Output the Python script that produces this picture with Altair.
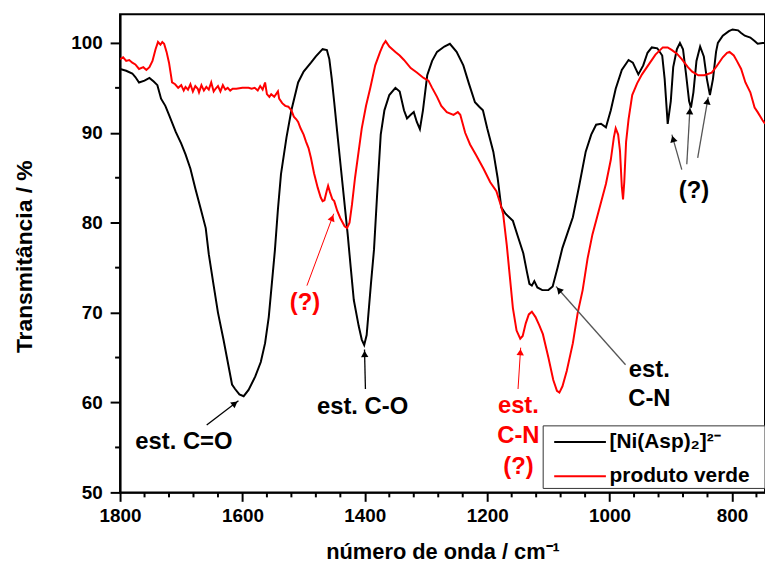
import math
import altair as alt
import pandas as pd

# ---------------- data ----------------
black_wn = [1800, 1790, 1780, 1775, 1769, 1760, 1752, 1745, 1739, 1733, 1726, 1720, 1709, 1700,
            1693, 1685, 1677, 1668, 1660, 1655, 1647, 1640, 1631, 1624, 1617, 1612, 1605, 1598,
            1590, 1579, 1570, 1563, 1557, 1552, 1547, 1542, 1537, 1528, 1520, 1509, 1500, 1488,
            1480, 1469, 1462, 1458, 1454, 1450, 1445, 1439, 1433, 1428, 1423, 1418, 1410, 1405,
            1401, 1397, 1390, 1385, 1380, 1374, 1368, 1360, 1350, 1343, 1336, 1331, 1325, 1320,
            1315, 1310, 1305, 1298, 1290, 1282, 1270, 1261, 1250, 1239, 1230, 1220, 1213, 1207,
            1200, 1190, 1183, 1177, 1170, 1158, 1150, 1141, 1135, 1131, 1127, 1123, 1118, 1110,
            1100, 1093, 1085, 1077, 1068, 1060, 1050, 1039, 1030, 1022, 1014, 1006, 998, 990,
            980, 969, 962, 953, 945, 938, 931, 922, 914, 910, 905, 900, 896, 890, 885, 880, 875,
            870, 867, 863, 858, 852, 846, 841, 836, 831, 826, 823, 815, 805, 799, 790, 785, 779,
            770, 763, 758, 750, 746]
black_t = [97.1, 96.9, 96.6, 96.2, 95.6, 95.8, 96.1, 95.7, 95.3, 93.8, 93.0, 92.0, 90.1, 88.8,
           87.6, 86.0, 83.8, 81.5, 79.4, 76.5, 73.0, 70.0, 67.0, 64.5, 62.0, 61.5, 60.9, 60.7,
           61.4, 62.9, 64.5, 66.6, 69.5, 73.2, 76.9, 81.5, 85.4, 89.5, 92.5, 95.6, 96.8, 97.8,
           98.5, 99.3, 99.2, 98.2, 96.0, 93.4, 90.0, 86.0, 82.0, 78.7, 75.0, 71.4, 68.5, 67.0,
           66.4, 67.5, 73.2, 77.0, 83.0, 89.8, 92.5, 94.2, 95.0, 94.6, 92.5, 91.6, 92.0, 92.3,
           91.2, 90.4, 92.5, 96.4, 98.0, 99.0, 99.6, 99.9, 99.0, 97.5, 95.5, 93.4, 92.9, 92.5,
           90.5, 87.9, 85.0, 81.7, 81.0, 80.2, 78.5, 76.6, 74.5, 73.2, 73.0, 73.5, 72.8, 72.5,
           72.5, 72.9, 75.0, 77.2, 79.0, 80.6, 84.0, 87.9, 89.8, 90.9, 91.0, 90.6, 92.5, 94.9,
           97.0, 98.1, 97.8, 96.5, 97.5, 98.9, 99.5, 99.4, 98.6, 96.0, 91.0, 93.5, 97.3, 99.3,
           100.0, 99.3, 96.5, 93.5, 92.8, 94.5, 98.0, 99.6, 98.5, 96.0, 94.2, 96.0, 99.0, 100.0,
           100.8, 101.3, 101.5, 101.4, 101.1, 100.8, 100.6, 100.2, 99.9, 100.0, 100.0]

red_wn = [1800, 1795, 1790, 1785, 1780, 1775, 1769, 1762, 1757, 1752, 1747, 1742, 1738, 1734,
          1731, 1728, 1724, 1720, 1717, 1715, 1710, 1705, 1700, 1696, 1693, 1689, 1685, 1681,
          1677, 1673, 1671, 1667, 1663, 1659, 1655, 1651, 1647, 1644, 1640, 1636, 1632, 1628,
          1624, 1620, 1616, 1610, 1600, 1590, 1585, 1580, 1575, 1571, 1567, 1563, 1560, 1556,
          1553, 1548, 1542, 1540, 1535, 1530, 1525, 1520, 1516, 1512, 1509, 1505, 1500, 1496,
          1492, 1488, 1483, 1477, 1472, 1469, 1466, 1462, 1460, 1457, 1453, 1450, 1445, 1440,
          1433, 1429, 1425, 1421, 1416, 1410, 1405, 1398, 1391, 1383, 1375, 1370, 1366, 1360,
          1350, 1343, 1336, 1325, 1315, 1304, 1296, 1290, 1282, 1275, 1266, 1255, 1248, 1244,
          1236, 1228, 1218, 1206, 1195, 1185, 1178, 1174, 1168, 1163, 1158, 1152, 1146, 1142,
          1137, 1132, 1127, 1121, 1115, 1109, 1100, 1092, 1086, 1082, 1077, 1070, 1060, 1052,
          1044, 1036, 1028, 1017, 1006, 998, 993, 990, 986, 983, 980, 978, 976, 973, 969, 963,
          955, 947, 937, 925, 913, 905, 898, 890, 882, 872, 865, 855, 845, 833, 825, 815, 808,
          804, 797, 792, 785, 778, 770, 763, 758, 750, 746]
red_t = [98.2, 98.4, 98.0, 98.1, 97.8, 97.6, 97.1, 97.3, 97.0, 97.3, 98.0, 99.3, 100.1, 99.8,
         100.1, 99.9, 99.0, 97.8, 96.5, 95.6, 95.4, 95.0, 95.3, 94.7, 95.1, 94.8, 95.4, 94.6,
         95.2, 94.9, 94.5, 95.3, 94.7, 95.1, 94.8, 95.6, 94.6, 94.9, 95.2, 94.6, 95.3, 94.8,
         95.0, 94.7, 94.9, 94.9, 95.0, 95.0, 94.9, 95.0, 94.7, 95.2, 94.8, 95.6, 94.3, 94.0,
         94.3, 94.0, 94.6, 93.8, 93.3, 93.0, 92.9, 92.5, 91.8, 91.5, 91.2, 90.5, 89.8, 89.0,
         88.3, 87.2, 85.5, 83.9, 82.8, 82.4, 82.5, 83.6, 84.1, 83.4, 82.6, 82.4, 81.3, 80.5,
         79.6, 79.4, 80.0, 82.0, 85.0, 88.0, 90.5, 93.0, 95.0, 97.5, 99.0, 99.8, 100.2, 99.6,
         99.0, 98.6, 98.1, 97.2, 96.7, 96.1, 95.8, 95.0, 94.0, 93.0, 92.3, 92.0, 92.3, 92.0,
         90.0, 88.7, 87.5, 86.0, 84.5, 83.5, 82.0, 81.0, 77.5, 74.0, 70.5, 68.0, 67.1, 67.4,
         68.8, 69.8, 70.1, 69.5, 68.6, 67.6, 65.0, 62.5, 61.3, 61.1, 61.8, 63.5, 66.6, 70.0,
         72.5, 76.0, 78.7, 81.5, 84.3, 87.0, 89.5, 90.5, 89.8, 88.0, 84.0, 82.6, 84.5, 89.0,
         91.5, 94.2, 95.5, 96.5, 97.5, 98.7, 99.5, 99.5, 99.2, 98.8, 98.2, 97.3, 96.8, 96.4,
         96.4, 96.7, 97.4, 98.4, 98.9, 99.0, 98.6, 98.0, 97.1, 95.6, 94.5, 92.8, 92.3, 91.4,
         91.0]

series_names = ["[Ni(Asp)₂]²⁻", "produto verde"]
series_colors = ["#000000", "#ff0000"]

x_major = [1800, 1600, 1400, 1200, 1000, 800]
x_minor = [1760, 1720, 1680, 1640, 1560, 1520, 1480, 1440, 1360, 1320, 1280, 1240,
           1160, 1120, 1080, 1040, 960, 920, 880, 840, 760]
y_major = [50, 60, 70, 80, 90, 100]
y_minor = [55, 65, 75, 85, 95]

# annotations (data units)
ann_text = ["est. C=O", "est. C-O", "(?)", "est.", "C-N", "(?)", "est.", "C-N", "(?)"]
ann_x = [1695.7, 1403.7, 1497.8, 1149, 1149, 1149, 935, 935, 862]
ann_y = [55.6, 59.5, 71.1, 59.6, 56.3, 52.8, 63.6, 60.4, 83.5]
ann_color = ["#000000", "#000000", "#ff0000", "#ff0000", "#ff0000", "#ff0000",
             "#000000", "#000000", "#000000"]

arr_x1 = [1658.4, 1399.0, 1494.6, 1149.6, 973.9, 882.0, 873.8, 856.0]
arr_y1 = [57.5, 61.5, 73.0, 61.5, 64.2, 85.9, 86.5, 87.2]
arr_x2 = [1606.5, 1400.5, 1450.8, 1145.3, 1087.5, 898.2, 868.5, 838.8]
arr_y2 = [60.2, 65.9, 81.0, 66.1, 72.9, 89.8, 92.9, 94.0]
arr_line_color = ["#000000", "#000000", "#ff0000", "#ff0000", "#555555", "#555555",
                  "#555555", "#555555"]
arr_head_color = ["#000000", "#000000", "#ff0000", "#ff0000", "#000000", "#000000",
                  "#000000", "#000000"]
arr_width = [1.3, 1.3, 1.0, 1.0, 1.3, 1.3, 1.3, 1.3]

# legend box
leg_x = [1108.5, 746]
leg_y = [50.44, 57.4]
leg_line_x = [1090.5, 1006]
leg_text_x = 1000
leg_row_y = [55.6, 51.8]

# ---------------- layout ----------------
W, H = 650, 482
X0, X1 = 1800, 746
Y0, Y1 = 50, 103.2
FONT = "Liberation Sans"

kx = -W / (X0 - X1)   # px per unit (reversed axis)
ky = H / (Y1 - Y0)    # px per unit (upwards)

heads = []
for i in range(len(arr_x1)):
    dxp = (arr_x2[i] - arr_x1[i]) * kx
    dyp = -(arr_y2[i] - arr_y1[i]) * ky
    L = math.hypot(dxp, dyp)
    ux, uy = dxp / L, dyp / L
    ang = math.degrees(math.atan2(ux, -uy)) % 360
    back = 4.5
    hx = arr_x2[i] - back * ux / kx
    hy = arr_y2[i] + back * uy / ky
    heads.append({"x": hx, "y": hy, "ang": ang, "c": arr_head_color[i]})

df = pd.concat([
    pd.DataFrame({"wn": black_wn, "T": black_t, "s": series_names[0], "o": range(len(black_wn))}),
    pd.DataFrame({"wn": red_wn, "T": red_t, "s": series_names[1], "o": range(len(red_wn))}),
])

xscale = alt.Scale(domain=[X0, X1], nice=False, zero=False)
yscale = alt.Scale(domain=[Y0, Y1], nice=False, zero=False)

xaxis = alt.Axis(
    values=x_major, format="d", tickSize=9, ticks=True,
    title="número de onda / cm⁻¹", titleFontSize=22, titleFont=FONT, titleFontWeight="bold",
    titleY=60, titleBaseline="middle",
    labelFontSize=19, labelFont=FONT, labelFontWeight="bold", labelPadding=5,
    labelFlush=False, labelOverlap=False,
    domainColor="black", domainWidth=2, tickColor="black", tickWidth=2, grid=False,
)
yaxis = alt.Axis(
    values=y_major, tickSize=10, ticks=True,
    title="Transmitância / %", titleFontSize=23, titleFont=FONT, titleFontWeight="bold",
    titleX=-96, titleY=244, titleAngle=270, titleBaseline="middle", titleAlign="center",
    labelFontSize=19, labelFont=FONT, labelFontWeight="bold", labelPadding=8,
    labelFlush=False, labelOverlap=False,
    domainColor="black", domainWidth=2, tickColor="black", tickWidth=2, grid=False,
)

lines = alt.Chart(df).mark_line(strokeWidth=2, clip=True).encode(
    x=alt.X("wn:Q", scale=xscale, axis=xaxis),
    y=alt.Y("T:Q", scale=yscale, axis=yaxis),
    color=alt.Color("s:N", scale=alt.Scale(domain=series_names, range=series_colors), legend=None),
    order=alt.Order("o:Q"),
)

# minor ticks (outside the plot, drawn from the tick values through the scales)
xminor = alt.Chart(pd.DataFrame({"v": x_minor})).mark_rule(color="black", strokeWidth=2).encode(
    x=alt.X("v:Q", scale=xscale), y=alt.value(H), y2=alt.value(H + 5),
)
yminor = alt.Chart(pd.DataFrame({"v": y_minor})).mark_rule(color="black", strokeWidth=2).encode(
    y=alt.Y("v:Q", scale=yscale), x=alt.value(0), x2=alt.value(-5),
)

arr_df = pd.DataFrame({"x1": arr_x1, "y1": arr_y1, "x2": arr_x2, "y2": arr_y2,
                       "c": arr_line_color, "w": arr_width})
arrows = alt.Chart(arr_df).mark_rule().encode(
    x=alt.X("x1:Q", scale=xscale), y=alt.Y("y1:Q", scale=yscale),
    x2="x2:Q", y2="y2:Q",
    color=alt.Color("c:N", scale=None),
    strokeWidth=alt.StrokeWidth("w:Q", scale=None),
)
head_df = pd.DataFrame(heads)
arrowheads = alt.Chart(head_df).mark_point(shape="triangle-up", filled=True, size=55, opacity=1).encode(
    x=alt.X("x:Q", scale=xscale), y=alt.Y("y:Q", scale=yscale),
    angle=alt.Angle("ang:Q", scale=None),
    color=alt.Color("c:N", scale=None),
)

ann_df = pd.DataFrame({"x": ann_x, "y": ann_y, "t": ann_text, "c": ann_color})
ann = alt.Chart(ann_df).mark_text(font=FONT, fontWeight="bold", fontSize=24, baseline="middle",
                                  align="center").encode(
    x=alt.X("x:Q", scale=xscale), y=alt.Y("y:Q", scale=yscale),
    text="t:N", color=alt.Color("c:N", scale=None),
)

box_df = pd.DataFrame({"x": [leg_x[0]], "x2": [leg_x[1]], "y": [leg_y[0]], "y2": [leg_y[1]]})
box = alt.Chart(box_df).mark_rect(fill="white", stroke="#333333", strokeWidth=1, clip=True).encode(
    x=alt.X("x:Q", scale=xscale), x2="x2:Q", y=alt.Y("y:Q", scale=yscale), y2="y2:Q",
)
leg_df = pd.DataFrame({"x": [leg_line_x[0]] * 2, "x2": [leg_line_x[1]] * 2, "y": leg_row_y,
                       "c": series_colors, "t": series_names, "tx": [leg_text_x] * 2})
leg_lines = alt.Chart(leg_df).mark_rule(strokeWidth=2).encode(
    x=alt.X("x:Q", scale=xscale), x2="x2:Q", y=alt.Y("y:Q", scale=yscale),
    color=alt.Color("c:N", scale=None),
)
leg_text = alt.Chart(leg_df).mark_text(font=FONT, fontWeight="bold", fontSize=21, align="left",
                                       baseline="middle").encode(
    x=alt.X("tx:Q", scale=xscale), y=alt.Y("y:Q", scale=yscale), text="t:N",
)

chart = alt.layer(lines, xminor, yminor, arrows, arrowheads, ann, box, leg_lines, leg_text).properties(
    width=W, height=H,
    autosize=alt.AutoSizeParams(type="none"),
    padding={"left": 121, "top": 12, "right": 0, "bottom": 79},
    background="white",
).configure_view(stroke="black", strokeWidth=2)

chart.save("out.html", embed_options={"renderer": "svg", "actions": False})
